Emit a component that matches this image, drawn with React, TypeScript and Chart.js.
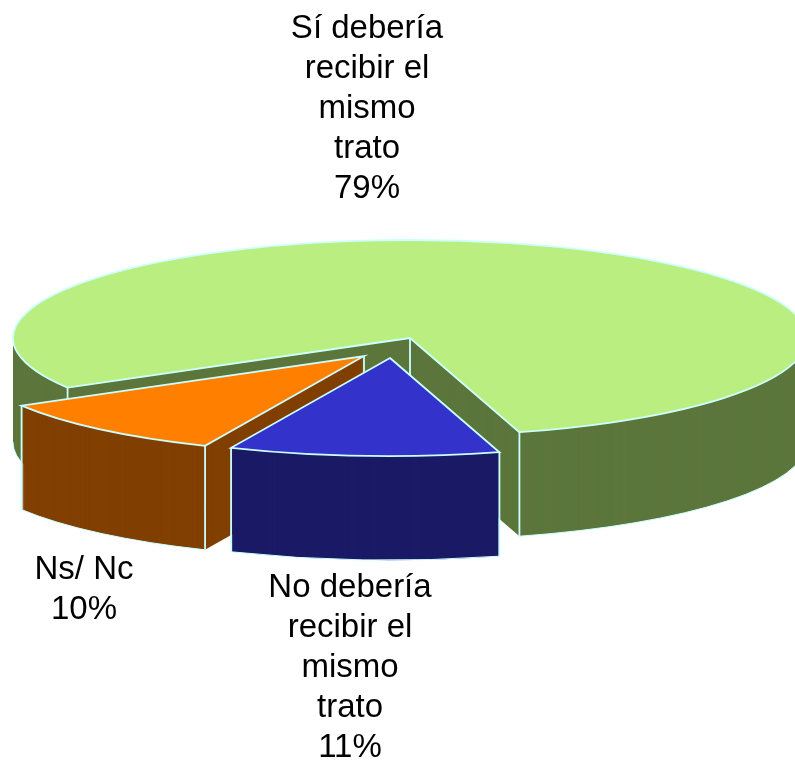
import React, { useEffect, useRef } from "react";
import { Chart, registerables } from "chart.js";

Chart.register(...registerables);

const categories = ["Sí debería recibir el mismo trato", "No debería recibir el mismo trato", "Ns/ Nc"];
const values = [79, 11, 10];
const labelLines = [
  ["Sí debería", "recibir el", "mismo", "trato"],
  ["No debería", "recibir el", "mismo", "trato"],
  ["Ns/ Nc"],
];
const topColors = ["#BBEE80", "#3333CC", "#FF8000"];
const wallColors = ["#5C763C", "#1A1A66", "#804000"];

const EDGE = "#CCFFFF";
const view = { cx: 410, cy: 338, rx: 397, ry: 98, depth: 104 };
const explode = [
  { x: 0, y: 0 },
  { x: -20, y: 20 },
  { x: -46, y: 18 },
];
const drawOrder = [0, 2, 1];
const labelPos = [
  { x: 367, y: 27 },
  { x: 350, y: 586 },
  { x: 84, y: 568 },
];

const pie3d = {
  id: "pie3d",
  beforeDatasetDraw(chart: any, args: any) {
    const ctx: CanvasRenderingContext2D = chart.ctx;
    const arcs = args.meta.data;
    const TAU = Math.PI * 2;
    for (const i of drawOrder) {
      const arc = arcs[i];
      const { x, y, startAngle, endAngle, outerRadius: r } = arc.getProps(
        ["x", "y", "startAngle", "endAngle", "outerRadius"],
        true
      );
      const sx = view.rx / r;
      const sy = view.ry / r;
      const ox = view.cx + explode[i].x;
      const oy = view.cy + explode[i].y;
      const place = (dy: number) => {
        ctx.translate(ox, oy + dy);
        ctx.scale(sx, sy);
        ctx.translate(-x, -y);
      };
      const wedge = (dy: number) => {
        ctx.save();
        place(dy);
        ctx.beginPath();
        ctx.moveTo(x, y);
        ctx.arc(x, y, r, startAngle, endAngle);
        ctx.closePath();
        ctx.restore();
      };
      const pt = (a: number, rad: number, dy: number) => [
        ox + Math.cos(a) * rad * sx,
        oy + dy + Math.sin(a) * rad * sy,
      ];

      // side walls
      ctx.save();
      ctx.fillStyle = wallColors[i];
      for (let d = view.depth; d > 0; d -= 1) {
        wedge(d);
        ctx.fill();
      }
      ctx.restore();

      // top face, drawn by the library's arc element
      ctx.save();
      place(0);
      arc.draw(ctx);
      ctx.restore();

      // edges
      ctx.save();
      ctx.strokeStyle = EDGE;
      ctx.lineWidth = 1.8;
      wedge(0);
      ctx.stroke();
      // the inner corner is hidden when the slice points at the viewer
      const front = Math.PI / 2;
      const turns = Math.ceil((startAngle - front) / TAU);
      const facesViewer = front + turns * TAU <= endAngle;
      const verticals: [number, number][] = [
        [startAngle, r],
        [endAngle, r],
      ];
      if (!facesViewer) verticals.push([startAngle, 0]);
      ctx.beginPath();
      for (const [a, rad] of verticals) {
        const [px, py] = pt(a, rad, 0);
        ctx.moveTo(px, py);
        ctx.lineTo(px, py + view.depth);
      }
      ctx.stroke();
      // lower rim: only the part of the outer arc that faces the viewer
      const k = Math.floor(startAngle / TAU);
      const ranges = [
        [k * TAU, k * TAU + Math.PI],
        [(k + 1) * TAU, (k + 1) * TAU + Math.PI],
      ];
      for (const [lo, hi] of ranges) {
        const a0 = Math.max(startAngle, lo);
        const a1 = Math.min(endAngle, hi);
        if (a1 <= a0) continue;
        ctx.save();
        place(view.depth);
        ctx.beginPath();
        ctx.arc(x, y, r, a0, a1);
        ctx.restore();
        ctx.lineWidth = 1;
        ctx.stroke();
      }
      ctx.restore();
    }
    return false;
  },
  afterDraw(chart: any) {
    const ctx: CanvasRenderingContext2D = chart.ctx;
    ctx.save();
    ctx.fillStyle = "#000000";
    ctx.font = '33px "Liberation Sans", Arial, sans-serif';
    ctx.textAlign = "center";
    ctx.textBaseline = "middle";
    labelPos.forEach((p, i) => {
      const lines = [...labelLines[i], `${values[i]}%`];
      lines.forEach((line, j) => ctx.fillText(line, p.x, p.y + 2 + j * 40));
    });
    ctx.restore();
  },
};

export default function App() {
  const ref = useRef<HTMLCanvasElement>(null);
  useEffect(() => {
    document.body.style.margin = "0";
    const chart = new Chart(ref.current as HTMLCanvasElement, {
      type: "pie",
      data: {
        labels: categories,
        datasets: [{ data: values, backgroundColor: topColors, borderWidth: 0 }],
      },
      options: {
        responsive: false,
        animation: false,
        rotation: 239.6,
        layout: { padding: 0 },
        plugins: { legend: { display: false }, tooltip: { enabled: false }, title: { display: false } },
      },
      plugins: [pie3d],
    } as any);
    return () => chart.destroy();
  }, []);
  return (
    <div style={{ width: 795, height: 762, overflow: "hidden", background: "#fff" }}>
      <canvas ref={ref} width={795} height={762} style={{ display: "block" }} />
    </div>
  );
}
